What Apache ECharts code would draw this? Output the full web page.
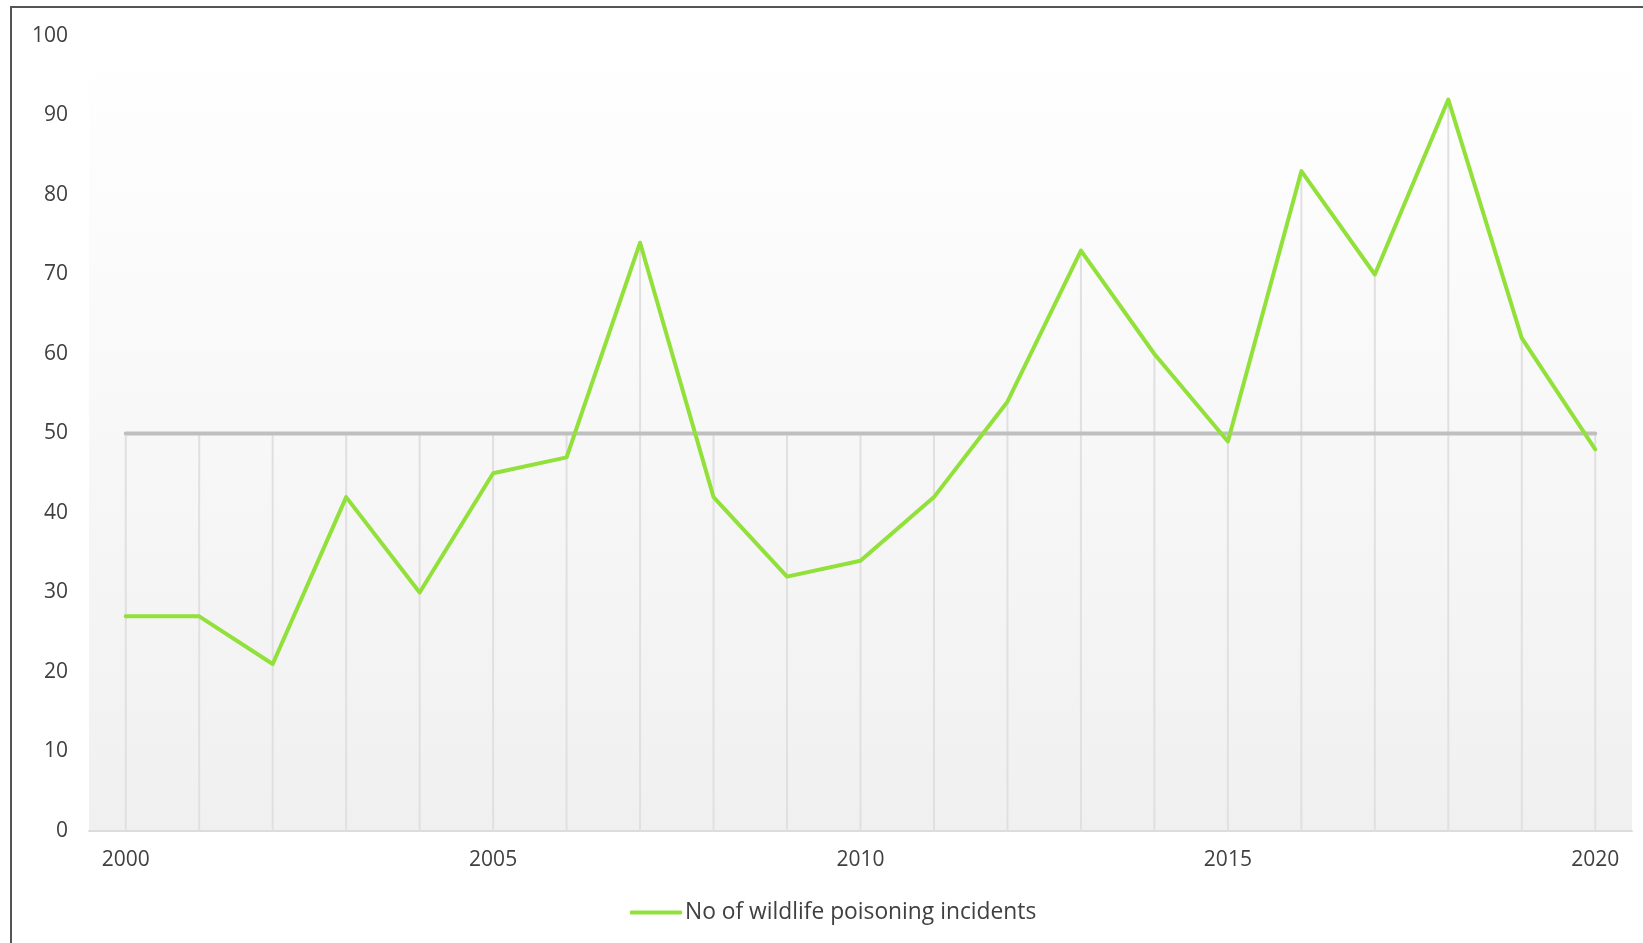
<!DOCTYPE html>
<html>
<head>
<meta charset="utf-8">
<title>Wildlife poisoning incidents</title>
<script src="https://cdn.jsdelivr.net/npm/echarts@6/dist/echarts.min.js"></script>
<style>
  html, body { margin: 0; padding: 0; background: #fff; }
  #chart { position: absolute; left: 0; top: 0; width: 1643px; height: 943px; }
  #frame { position: absolute; left: 10px; top: 6px; width: 1700px; height: 1000px;
           border-left: 2px solid #555; border-top: 2px solid #555; pointer-events: none; }
</style>
</head>
<body>
<div id="chart"></div>
<div id="frame"></div>
<script>
const years = ['2000', '2001', '2002', '2003', '2004', '2005', '2006', '2007', '2008', '2009', '2010',
  '2011', '2012', '2013', '2014', '2015', '2016', '2017', '2018', '2019', '2020']
const incidents = [27, 27, 21, 42, 30, 45, 47, 74, 42, 32, 34, 42, 54, 73, 60, 49, 83, 70, 92, 62, 48]
const referenceLevel = [50, 50, 50, 50, 50, 50, 50, 50, 50, 50, 50, 50, 50, 50, 50, 50, 50, 50, 50, 50, 50]

const fontFamily = '"Open Sans", "Noto Sans", sans-serif'

// drop lines go from the higher of the two series down to the axis
const dropLines = incidents.map((v, i) => Math.max(v, referenceLevel[i]))

const chart = echarts.init(document.getElementById('chart'))

const option = {
  animation: false,
  grid: {
    left: 89,
    right: 11,
    top: 36,
    bottom: 112,
    show: true,
    borderWidth: 0,
    backgroundColor: new echarts.graphic.LinearGradient(0, 0, 0, 1, [
      { offset: 0, color: '#ffffff' },
      { offset: 1, color: '#f0f0f0' }
    ])
  },
  legend: {
    data: ['No of wildlife poisoning incidents'],
    left: 625,
    top: 896,
    icon: 'roundRect',
    itemWidth: 52,
    itemHeight: 4,
    itemGap: 20,
    textStyle: { fontFamily, fontSize: 22.8, color: '#404040', padding: [0, 0, 0, -2] }
  },
  xAxis: {
    type: 'category',
    data: years,
    boundaryGap: true,
    axisLine: { lineStyle: { color: '#dcdcdc', width: 2 } },
    axisTick: { show: false },
    axisLabel: { interval: 4, fontFamily, fontSize: 21, color: '#404040', margin: 19 },
    splitLine: { show: false }
  },
  yAxis: {
    type: 'value',
    min: 0,
    max: 100,
    interval: 10,
    axisLine: { show: false },
    axisTick: { show: false },
    splitLine: { show: false },
    axisLabel: { fontFamily, fontSize: 21, color: '#404040', margin: 21 }
  },
  series: [
    {
      name: 'drop',
      type: 'bar',
      data: dropLines,
      barWidth: 2,
      silent: true,
      z: 1,
      itemStyle: { color: '#e0e0e0' }
    },
    {
      name: 'Reference',
      type: 'line',
      data: referenceLevel,
      symbol: 'none',
      z: 2,
      lineStyle: { color: '#bfbfbf', width: 4, cap: 'round' },
      itemStyle: { color: '#bfbfbf' }
    },
    {
      name: 'No of wildlife poisoning incidents',
      type: 'line',
      data: incidents,
      symbol: 'none',
      z: 3,
      lineStyle: { color: '#92e03a', width: 4, cap: 'round', join: 'round' },
      itemStyle: { color: '#92e03a' }
    }
  ]
}

chart.setOption(option)
</script>
</body>
</html>
